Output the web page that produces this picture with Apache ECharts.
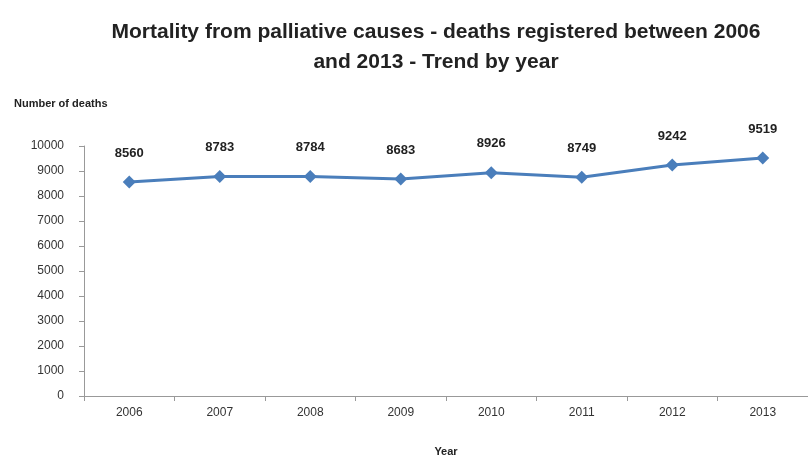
<!DOCTYPE html>
<html>
<head>
	<meta charset="UTF-8">
	<title></title>
	<script src="https://cdn.jsdelivr.net/npm/echarts@6/dist/echarts.min.js"></script>
	<style type="text/css">
		html,body{margin:0; padding:0; background:#fff;}
		#chart1{width:808px; height:459px;}
	</style>
</head>
<body>
	<div id="chart1"></div>
	<script type="text/javascript">
		var years = ['2006','2007','2008','2009','2010','2011','2012','2013'];
		var deaths = [8560, 8783, 8784, 8683, 8926, 8749, 9242, 9519];

		var myChart = echarts.init(document.getElementById('chart1'));
		var option = {
			backgroundColor: '#fff',
			textStyle: {fontFamily: 'Liberation Sans, Arial, sans-serif'},
			title: {
				text: 'Mortality from palliative causes - deaths registered between 2006\nand 2013 - Trend by year',
				left: 431, top: 12, textAlign: 'center',
				textStyle: {fontSize: 21, fontWeight: 'bold', color: '#222', lineHeight: 30}
			},
			grid: {left: 84, right: 0, top: 146, bottom: 63, outerBoundsMode: 'none', containLabel: false},
			xAxis: {
				type: 'category',
				data: years,
				name: 'Year',
				nameLocation: 'middle',
				nameGap: 50,
				nameTextStyle: {fontSize: 11, fontWeight: 'bold', color: '#222'},
				axisLine: {lineStyle: {color: '#999'}},
				axisTick: {show: true, length: 5, lineStyle: {color: '#999'}},
				axisLabel: {color: '#333', fontSize: 12, margin: 11}
			},
			yAxis: {
				type: 'value',
				min: 0, max: 10000, interval: 1000,
				name: 'Number of deaths',
				nameLocation: 'end',
				nameGap: 37,
				nameTextStyle: {fontSize: 11, fontWeight: 'bold', color: '#222', align: 'left', padding: [0, 0, 0, -70]},
				axisLine: {show: true, lineStyle: {color: '#999'}},
				axisTick: {show: true, length: 5, lineStyle: {color: '#999'}},
				axisLabel: {color: '#333', fontSize: 12, margin: 20, formatter: function (v) { return String(v); }},
				splitLine: {show: false}
			},
			series: [{
				type: 'line',
				data: deaths,
				symbol: 'diamond',
				symbolSize: 13,
				lineStyle: {color: '#4a7ebb', width: 3},
				itemStyle: {color: '#4a7ebb'},
				label: {
					show: true, position: 'top', distance: 16,
					fontSize: 13, fontWeight: 'bold', color: '#222'
				}
			}]
		};
		myChart.setOption(option);
	</script>
</body>
</html>
